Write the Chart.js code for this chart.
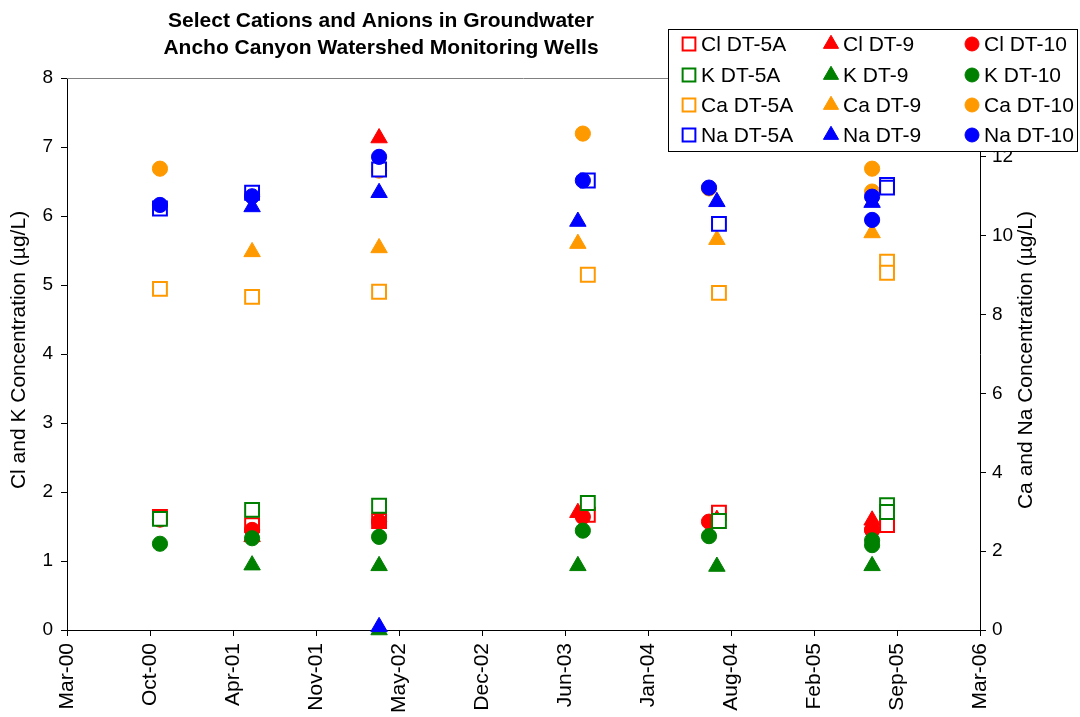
<!DOCTYPE html>
<html><head><meta charset="utf-8">
<script src="https://cdn.jsdelivr.net/npm/chart.js@4.4.1/dist/chart.umd.min.js"></script>
<style>html,body{margin:0;padding:0;background:#fff;}#wrap{position:relative;width:1080px;height:717px;}</style>
</head><body><div id="wrap"><canvas id="c" width="1080" height="717"></canvas></div>
<script>
const FONT = '"Liberation Sans", Arial, sans-serif';

// ---- data ----
const chartTitle = ['Select Cations and Anions in Groundwater', 'Ancho Canyon Watershed Monitoring Wells'];
const leftAxisTitle = 'Cl and K Concentration (µg/L)';
const rightAxisTitle = 'Ca and Na Concentration (µg/L)';
const monthNames = ['Jan','Feb','Mar','Apr','May','Jun','Jul','Aug','Sep','Oct','Nov','Dec'];
const xAxisStart = '2000-03-15';   // Mar-00
const xAxisEnd = '2006-03-24';     // Mar-06
const xAxisStepDays = 200;

const dates5A = ['2000-10-25','2001-06-04','2002-04-06','2003-08-22','2004-07-03','2005-08-12','2005-08-12'];
const dates9  = ['2001-06-04','2002-04-06','2002-04-06','2003-07-29','2004-06-28','2005-07-07'];
const dates10 = ['2000-10-25','2001-06-04','2002-04-06','2003-08-10','2004-06-09','2005-07-07','2005-07-07'];

const cl5A = [1.64, 1.52, 1.58, 1.67, 1.70, 1.55, 1.52];
const cl9  = [1.35, 7.13, null, 1.70, 1.60, 1.59];
const cl10 = [1.60, 1.45, 1.57, 1.64, 1.57, 1.45, 1.45];

const k5A = [1.61, 1.74, 1.80, 1.84, 1.58, 1.81, 1.71];
const k9  = [0.94, 0.93, 0.00, 0.93, 0.92, 0.93];
const k10 = [1.25, 1.33, 1.35, 1.44, 1.36, 1.30, 1.23];

const ca5A = [8.65, 8.45, 8.58, 9.01, 8.55, 9.34, 9.06];
const ca9  = [9.59, 9.69, null, 9.80, 9.90, 10.07];
const ca10 = [11.70, 11.05, 11.65, 12.59, 11.20, 11.70, 11.12];

const na5A = [10.69, 11.09, 11.68, 11.40, 10.30, 11.29, 11.22];
const na9  = [10.73, 11.09, 0.08, 10.36, 10.86, 10.84];
const na10 = [10.78, 11.00, 12.00, 11.40, 11.22, 10.99, 10.40];

// ---- helpers ----
const DAY = 86400000;
const EPOCH = Date.UTC(1899, 11, 30);
function serial(iso) { return Math.round((Date.parse(iso) - EPOCH) / DAY); }
function fmtSerial(s) {
  const d = new Date(EPOCH + s * DAY);
  return monthNames[d.getUTCMonth()] + '-' + String(d.getUTCFullYear() % 100).padStart(2, '0');
}

const colors = { Cl: '#FF0000', K: '#008000', Ca: '#FF9900', Na: '#0000FF' };
const wells = [
  { name: 'DT-5A', dates: dates5A, style: 'rect' },
  { name: 'DT-9', dates: dates9, style: 'triangle' },
  { name: 'DT-10', dates: dates10, style: 'circle' }
];
const analytes = [
  { name: 'Cl', axis: 'y', vals: [cl5A, cl9, cl10] },
  { name: 'K', axis: 'y', vals: [k5A, k9, k10] },
  { name: 'Ca', axis: 'y2', vals: [ca5A, ca9, ca10] },
  { name: 'Na', axis: 'y2', vals: [na5A, na9, na10] }
];

function markerOpts(style, color) {
  if (style === 'rect') return { pointStyle: 'rect', radius: 9.8, borderWidth: 2, fill: '#FFFFFF', stroke: color };
  if (style === 'triangle') return { pointStyle: 'triangle', radius: 9.5, borderWidth: 1, fill: color, stroke: color };
  return { pointStyle: 'circle', radius: 7.6, borderWidth: 1, fill: color, stroke: color };
}

const datasets = [];
const legendItems = [];
let idx = 0;
analytes.forEach(a => {
  wells.forEach((w, wi) => {
    const vals = a.vals[wi];
    const m = markerOpts(w.style, colors[a.name]);
    const data = [];
    w.dates.forEach((d, i) => { if (vals[i] !== null && vals[i] !== undefined) data.push({ x: serial(d), y: vals[i] }); });
    datasets.push({
      label: a.name + ' ' + w.name,
      data: data,
      yAxisID: a.axis,
      pointStyle: m.pointStyle,
      pointRadius: m.radius,
      pointBorderWidth: m.borderWidth,
      pointBackgroundColor: m.fill,
      pointBorderColor: m.stroke,
      showLine: false,
      clip: false,
      order: 100 - idx
    });
    legendItems.push({ label: a.name + ' ' + w.name, m: m });
    idx++;
  });
});

const xMin = serial(xAxisStart), xMax = serial(xAxisEnd);

const decor = {
  id: 'decor',
  afterDraw(chart) {
    const ctx = chart.ctx, ca = chart.chartArea;
    ctx.save();
    // top border of plot area
    ctx.strokeStyle = '#808080'; ctx.lineWidth = 1;
    ctx.beginPath(); ctx.moveTo(ca.left, ca.top + 0.5); ctx.lineTo(ca.right, ca.top + 0.5); ctx.stroke();
    // title
    ctx.fillStyle = '#000'; ctx.textAlign = 'center'; ctx.textBaseline = 'middle';
    ctx.font = 'bold 21px ' + FONT;
    ctx.fillText(chartTitle[0], 381, 21);
    ctx.fillText(chartTitle[1], 381, 48);
    // axis titles
    ctx.font = '21px ' + FONT;
    const midY = (ca.top + ca.bottom) / 2;
    ctx.save(); ctx.translate(19, midY - 4); ctx.rotate(-Math.PI / 2); ctx.fillText(leftAxisTitle, 0, 0); ctx.restore();
    ctx.save(); ctx.translate(1026, midY + 6); ctx.rotate(-Math.PI / 2); ctx.fillText(rightAxisTitle, 0, 0); ctx.restore();
    // legend
    const bx = 668.5, by = 29.5, bw = 409, bh = 122;
    ctx.fillStyle = '#FFFFFF'; ctx.fillRect(bx, by, bw, bh);
    ctx.strokeStyle = '#000'; ctx.lineWidth = 1; ctx.strokeRect(bx, by, bw, bh);
    const colX = [689, 831, 972], rowY = [44, 75, 105, 135];
    ctx.font = '21px ' + FONT; ctx.textAlign = 'left'; ctx.textBaseline = 'middle';
    legendItems.forEach((it, i) => {
      const r = Math.floor(i / 3), c = i % 3;
      const x = colX[c], y = rowY[r];
      ctx.save();
      ctx.fillStyle = it.m.fill; ctx.strokeStyle = it.m.stroke; ctx.lineWidth = it.m.borderWidth;
      Chart.helpers.drawPoint(ctx, { pointStyle: it.m.pointStyle, radius: it.m.radius * 0.92, rotation: 0, borderWidth: it.m.borderWidth }, x, y);
      ctx.restore();
      ctx.fillStyle = '#000';
      ctx.fillText(it.label, x + 12, y + 1);
    });
    ctx.restore();
  }
};

const yTickFont = { family: FONT, size: 19 };
const xTickFont = { family: FONT, size: 21 };

new Chart(document.getElementById('c'), {
  type: 'scatter',
  data: { datasets: datasets },
  options: {
    responsive: false,
    devicePixelRatio: 1,
    animation: false,
    events: [],
    layout: { padding: { top: 78, left: 0, right: 0, bottom: 0 } },
    plugins: { legend: { display: false }, title: { display: false }, tooltip: { enabled: false } },
    scales: {
      x: {
        type: 'linear', position: 'bottom', min: xMin, max: xMax,
        afterBuildTicks(scale) {
          const t = [];
          for (let v = xMin; v <= xMax; v += xAxisStepDays) t.push({ value: v });
          scale.ticks = t;
        },
        afterFit(scale) { scale.height = 87; },
        ticks: { autoSkip: false, maxRotation: 90, minRotation: 90, font: xTickFont, color: '#000', padding: 7,
                 callback: v => fmtSerial(v) },
        grid: { drawOnChartArea: false, drawTicks: true, tickLength: 6, color: '#000' },
        border: { display: true, color: '#000', width: 1 }
      },
      y: {
        position: 'left', min: 0, max: 8,
        afterFit(scale) { scale.width = 67; },
        ticks: { stepSize: 1, font: yTickFont, color: '#000', padding: 8 },
        grid: { drawOnChartArea: false, drawTicks: true, tickLength: 6, color: '#000' },
        border: { display: true, color: '#000', width: 1 }
      },
      y2: {
        position: 'right', min: 0, max: 14,
        afterFit(scale) { scale.width = 100; },
        ticks: { stepSize: 2, font: yTickFont, color: '#000', padding: 6 },
        grid: { drawOnChartArea: false, drawTicks: true, tickLength: 6, color: '#000' },
        border: { display: true, color: '#000', width: 1 }
      }
    }
  },
  plugins: [decor]
});
</script>
</body></html>
